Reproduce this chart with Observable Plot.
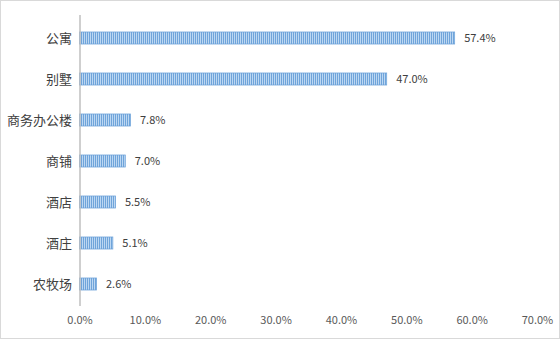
<!DOCTYPE html>
<html><head><meta charset="utf-8">
<script src="https://cdn.jsdelivr.net/npm/d3@7"></script>
<script src="https://cdn.jsdelivr.net/npm/@observablehq/plot@0.6"></script>
<style>
html,body{margin:0;padding:0;background:#fff;}
#wrap{width:560px;height:339px;box-sizing:border-box;border:1px solid #d9d9d9;background:#fff;}
svg{display:block;}
</style></head><body><div id="wrap"></div>
<script>
const categories = ["公寓","别墅","商务办公楼","商铺","酒店","酒庄","农牧场"];
const values = [57.4, 47.0, 7.8, 7.0, 5.5, 5.1, 2.6];
const xTicks = [0,10,20,30,40,50,60,70];

const data = categories.map((c,i)=>({cat:c, v:values[i]}));
const font = "'Noto Sans CJK SC', 'Noto Sans', sans-serif";

const chart = Plot.plot({
  width: 558, height: 337,
  marginLeft: 78.5, marginRight: 22, marginTop: 14, marginBottom: 32,
  style: {fontFamily: font, background: "#fff", color: "#595959"},
  x: {domain:[0,70], ticks: xTicks, tickFormat: d=>d.toFixed(1)+"%", label:null, tickSize:0, tickPadding:10},
  y: {domain: categories, paddingInner: 0.71, paddingOuter: 0.355, label:null, tickSize:0, tickPadding:8},
  marks: [
    Plot.barX(data, {y:"cat", x:"v", fill:"url(#stripes)", stroke:"#6fa4da", strokeWidth:0.8}),
    Plot.ruleX([0], {stroke:"#bfbfbf", strokeWidth:1.5}),
    Plot.text(data, {y:"cat", x:"v", text: d=>d.v.toFixed(1)+"%", textAnchor:"start", dx:9, fontSize:11, fill:"#404040"}),
    Plot.axisY({tickSize:0, tickPadding:8, fontSize:13, fill:"#404040"}),
    Plot.axisX({ticks:xTicks, tickFormat:d=>d.toFixed(1)+"%", tickSize:0, tickPadding:10, fontSize:11, fill:"#595959", label:null})
  ]
});
const defs = d3.select(chart).insert("defs", ":first-child");
const pat = defs.append("pattern").attr("id","stripes").attr("patternUnits","userSpaceOnUse").attr("width",2).attr("height",4);
pat.append("rect").attr("width",2).attr("height",4).attr("fill","#bcd7f2");
pat.append("rect").attr("width",1).attr("height",4).attr("fill","#6fa4da");
document.getElementById("wrap").appendChild(chart);
</script></body></html>
